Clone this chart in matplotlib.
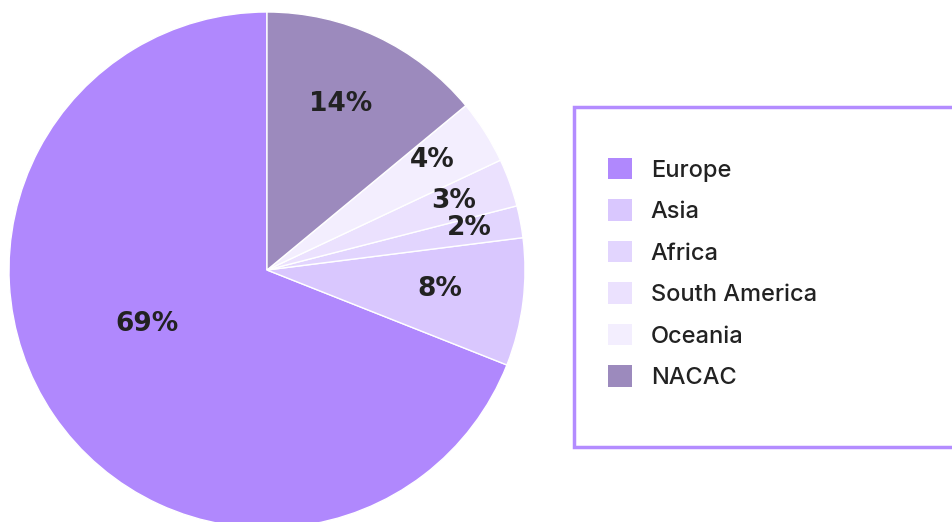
import numpy as np
import matplotlib
matplotlib.use("Agg")
import matplotlib.pyplot as plt
from matplotlib.patches import Rectangle, Patch

# data, in legend order (pie drawn counterclockwise from 12 o'clock)
regions = ["Europe", "Asia", "Africa", "South America", "Oceania", "NACAC"]
shares = [69, 8, 2, 3, 4, 14]
colors = ["#b088fd", "#d9c7fe", "#e2d5fe", "#ebe1fe", "#f3eefe", "#9c8abd"]
pct_labels = ["69%", "8%", "2%", "3%", "4%", "14%"]

# where each % label sits: fraction of radius, and degrees off the wedge middle
label_radius = [0.51, 0.675, 0.80, 0.77, 0.77, 0.705]
label_turn = [-9.9, 0.9, 0.9, 0.5, 1.1, 1.2]

fig = plt.figure(figsize=(9.52, 5.22), dpi=100)
W, H = 952, 522
cx, cy, r = 267, 270, 258
ax = fig.add_axes([(cx - r) / W, (H - cy - r) / H, 2 * r / W, 2 * r / H])

wedges, _ = ax.pie(shares, colors=colors, startangle=90, counterclock=True,
                   wedgeprops=dict(edgecolor="white", linewidth=1))
ax.set_xlim(-1, 1)
ax.set_ylim(-1, 1)
ax.set_aspect("equal")
ax.axis("off")

for w, lab, rr, turn in zip(wedges, pct_labels, label_radius, label_turn):
    ang = np.deg2rad((w.theta1 + w.theta2) / 2 + turn)
    ax.text(rr * np.cos(ang), rr * np.sin(ang), lab, ha="center", va="center",
            fontsize=19, fontweight="bold", color="#222222", family="DejaVu Sans")

# legend box (runs off the right edge)
box = Rectangle((574 / W, (H - 447) / H), 400 / W, 340 / H, transform=fig.transFigure,
                facecolor="white", edgecolor="#b38cff", linewidth=2.5, clip_on=False)
fig.patches.append(box)

handles = [Patch(facecolor=c, edgecolor="none") for c in colors]
fig.legend(handles, regions, loc="upper left", bbox_to_anchor=(596 / W, (H - 146) / H),
           frameon=False, prop=dict(family="Inter", size=17, weight="medium"),
           handlelength=1.02, handleheight=1.02, handletextpad=0.8,
           labelspacing=0.75, labelcolor="#222222", borderpad=0)

fig.savefig("out.png", dpi=100)
